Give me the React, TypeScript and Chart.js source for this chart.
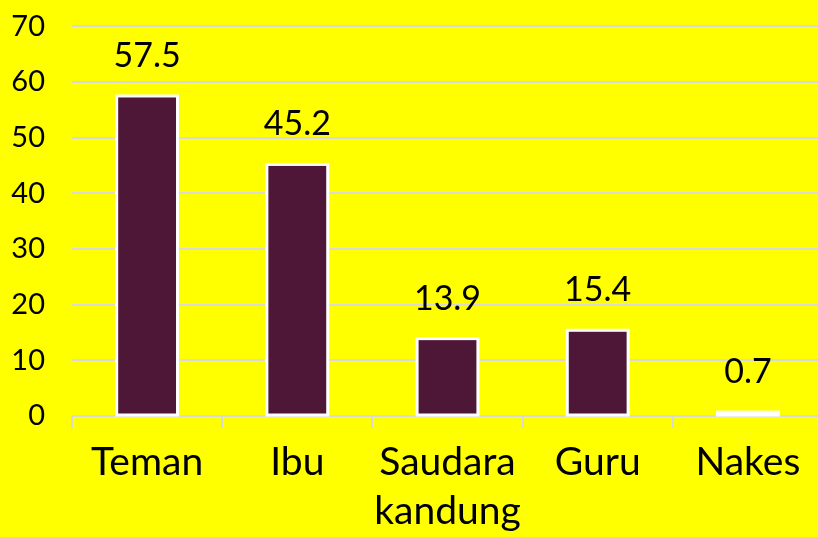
import React, { useEffect, useRef } from "react";
import { Chart, registerables } from "chart.js";

Chart.register(...registerables);

const categories: (string | string[])[] = ["Teman", "Ibu", ["Saudara", "kandung"], "Guru", "Nakes"];
const values: number[] = [57.5, 45.2, 13.9, 15.4, 0.7];
const yTicks: number[] = [0, 10, 20, 30, 40, 50, 60, 70];

const FONT = "Lato, 'Open Sans', sans-serif";

const barOutline = {
  id: "barOutline",
  afterDatasetsDraw(chart: any) {
    const ctx = chart.ctx;
    const meta = chart.getDatasetMeta(0);
    ctx.save();
    ctx.strokeStyle = "#ffffff";
    ctx.lineWidth = 3;
    meta.data.forEach((bar: any) => {
      const left = bar.x - bar.width / 2;
      const top = Math.min(bar.y, bar.base);
      const h = Math.abs(bar.base - bar.y);
      ctx.strokeRect(left, top, bar.width, h);
    });
    ctx.restore();
  },
};

const valueLabels = {
  id: "valueLabels",
  afterDatasetsDraw(chart: any) {
    const ctx = chart.ctx;
    const meta = chart.getDatasetMeta(0);
    ctx.save();
    ctx.font = `34px ${FONT}`;
    ctx.fillStyle = "#000";
    ctx.textAlign = "center";
    ctx.textBaseline = "alphabetic";
    meta.data.forEach((bar: any, i: number) => {
      ctx.fillText(String(values[i]), bar.x, bar.y - 29);
    });
    ctx.restore();
  },
};

const CW = 823;
const SHIFT = 18;
const CH = 537 + SHIFT;

export default function App() {
  const ref = useRef<HTMLCanvasElement | null>(null);
  useEffect(() => {
    document.body.style.margin = "0";
    document.body.style.background = "#ffff00";
    const chart = new Chart(ref.current!, {
      type: "bar",
      data: {
        labels: categories as any,
        datasets: [
          {
            data: values,
            backgroundColor: "#4f1737",
            borderWidth: 0,
            barPercentage: 0.81,
            categoryPercentage: 0.5,
          },
        ],
      },
      options: {
        animation: false,
        responsive: false,
        maintainAspectRatio: false,
        layout: { padding: 0 },
        plugins: { legend: { display: false }, tooltip: { enabled: false } },
        scales: {
          x: {
            grid: {
              drawOnChartArea: false,
              color: "#d9d9d9",
              tickLength: 12,
              lineWidth: 2,
            },
            border: { color: "#d9d9d9", width: 2 },
            ticks: {
              color: "#000",
              font: { family: FONT, size: 39, lineHeight: 1.28 },
              padding: 9,
              maxRotation: 0,
              autoSkip: false,
            },
            afterFit(scale: any) {
              scale.height = 121;
            },
          },
          y: {
            min: 0,
            max: 70,
            afterBuildTicks(scale: any) {
              scale.ticks = yTicks.map((v) => ({ value: v }));
            },
            grid: { color: "#d9d9d9", lineWidth: 2, drawTicks: false },
            border: { display: false },
            ticks: {
              color: "#000",
              font: { family: FONT, size: 29 },
              padding: 27,
            },
            afterFit(scale: any) {
              scale.width = 72;
            },
          },
        },
      },
      plugins: [barOutline, valueLabels],
    });
    return () => chart.destroy();
  }, []);
  return (
    <div style={{ width: 818, height: 537, background: "#ffff00", overflow: "hidden", position: "relative" }}>
      <canvas
        ref={ref}
        width={CW}
        height={CH}
        style={{ position: "absolute", left: 0, top: -SHIFT, display: "block" }}
      />
    </div>
  );
}
